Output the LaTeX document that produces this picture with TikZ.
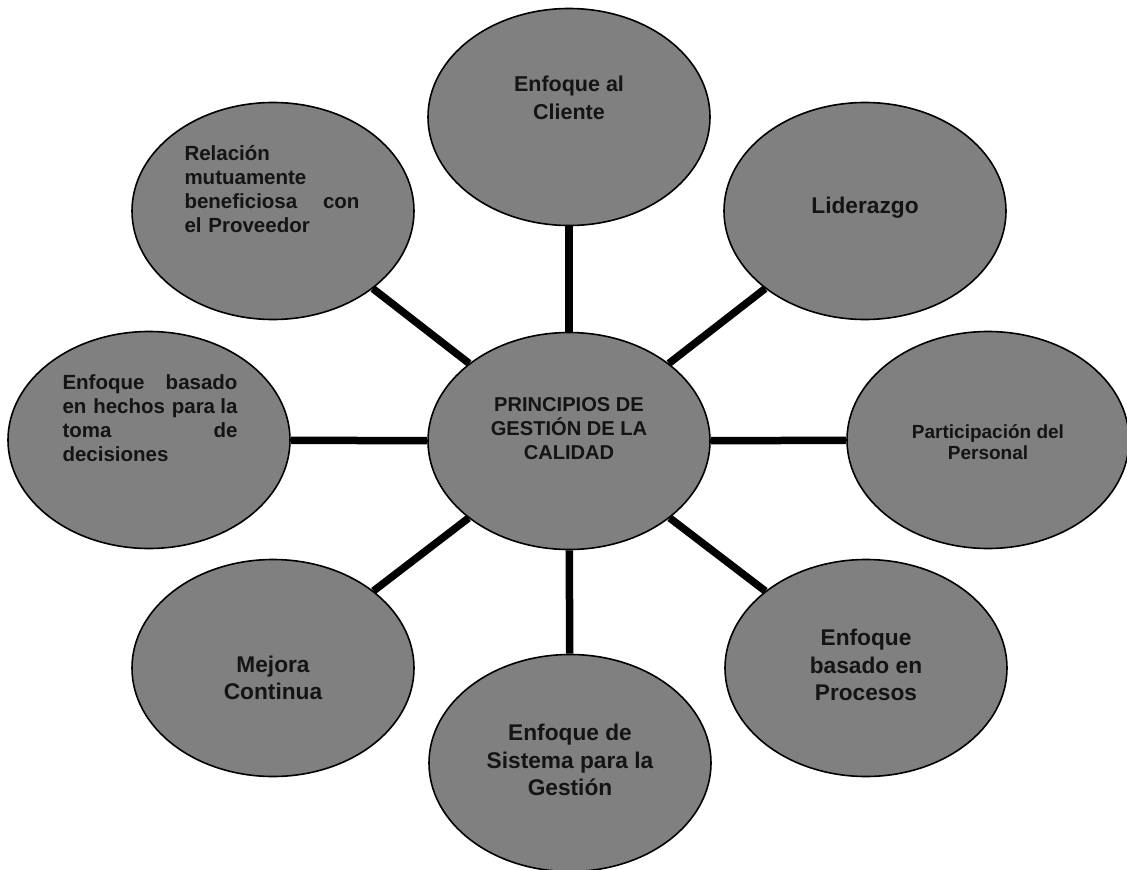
\documentclass[tikz,border=0pt]{standalone}
\usepackage{fontspec}
\setmainfont{Liberation Sans}
\usetikzlibrary{shapes.geometric}
\definecolor{relleno}{RGB}{128,128,128}
\definecolor{tinta}{RGB}{20,20,20}
\newcommand{\renglon}[2]{\leavevmode\hbox to 175pt{#1\hfill #2}}
\begin{document}
\begin{tikzpicture}[x=1pt,y=-1pt,
    elipse/.style={ellipse, draw=black, line width=1.6pt, fill=relleno,
        minimum width=282pt, minimum height=217pt, inner sep=0pt},
    texto/.style={align=center, text=tinta,
        font=\bfseries\fontsize{22.7}{27.5}\selectfont},
    textojust/.style={align=left, text width=175pt, text=tinta,
        font=\bfseries\fontsize{20.5}{24}\selectfont},
    conector/.style={line width=7.5pt, black}]
    \useasboundingbox (0,0) rectangle (1127,870);
    % las nueve elipses
    \node[elipse] (centro) at (569,441) {};
    \node[elipse] (cliente) at (569,117) {};
    \node[elipse] (lider) at (865,211) {};
    \node[elipse] (personal) at (988,440) {};
    \node[elipse] (procesos) at (866,668) {};
    \node[elipse] (sistema) at (570,763) {};
    \node[elipse] (mejora) at (273,668) {};
    \node[elipse] (hechos) at (149,440) {};
    \node[elipse] (relacion) at (273,211) {};
    % uniones con el centro
    \draw[conector] (centro) -- (cliente);
    \draw[conector] (centro) -- (lider);
    \draw[conector] (centro) -- (personal);
    \draw[conector] (centro) -- (procesos);
    \draw[conector] (centro) -- (sistema);
    \draw[conector] (centro) -- (mejora);
    \draw[conector] (centro) -- (hechos);
    \draw[conector] (centro) -- (relacion);
    % textos
    \node[texto, font=\bfseries\fontsize{20.1}{24}\selectfont] (tcentro) at (569,429) {PRINCIPIOS DE\\GESTIÓN DE LA\\CALIDAD};
    \node[texto, font=\bfseries\fontsize{21.5}{28}\selectfont] (tcliente) at (569,98) {Enfoque al\\Cliente};
    \node[texto] (tlider) at (865,208) {Liderazgo};
    \node[texto, font=\bfseries\fontsize{19}{21}\selectfont] (tpersonal) at (988,442) {Participación del\\Personal};
    \node[texto] (tprocesos) at (866,665) {Enfoque\\basado en\\Procesos};
    \node[texto] (tsistema) at (570,760) {Enfoque de\\Sistema para la\\Gestión};
    \node[texto] (tmejora) at (273,678) {Mejora\\Continua};
    \node[textojust] (thechos) at (150,418) {\renglon{Enfoque}{basado}\\\renglon{en hechos para}{la}\\\renglon{toma}{de}\\decisiones};
    \node[textojust] (trelacion) at (272,189) {Relación\\mutuamente\\\renglon{beneficiosa}{con}\\el Proveedor};
\end{tikzpicture}
\end{document}
